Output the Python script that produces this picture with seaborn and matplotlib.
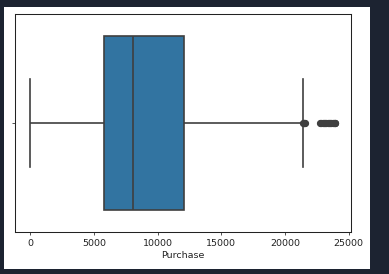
import matplotlib
matplotlib.use("Agg")
import matplotlib.pyplot as plt
from matplotlib.patches import Rectangle
import seaborn as sns
import pandas as pd

# Purchase values (min ~12, Q1 ~5823, median ~8047, Q3 ~12054,
# upper whisker ~21399, outliers up to ~23961)
low_values = [12, 300, 600, 900, 1200, 1500, 1800, 2100, 2400, 2700, 3000, 3300,
              3600, 3900, 4200, 4500, 4800, 5100, 5400, 5650]
q1_value = [5823]
lower_mid = [5900, 6000, 6100, 6200, 6300, 6400, 6500, 6600, 6700, 6800, 6900,
             7000, 7100, 7250, 7400, 7550, 7700, 7850, 7980]
median_value = [8047]
upper_mid = [8150, 8300, 8500, 8700, 8900, 9100, 9300, 9500, 9700, 9900, 10100,
             10300, 10500, 10700, 10900, 11200, 11500, 11800, 11950]
q3_value = [12054]
high_values = [21300, 21399, 21420, 21470, 21520, 21560, 22750, 22850, 22950,
               23050, 23150, 23250, 23350, 23450, 23550, 23650, 23750, 23850,
               23950, 23961]

purchase = (low_values + q1_value + lower_mid + median_value + upper_mid
            + q3_value + high_values)
df = pd.DataFrame({"Purchase": purchase})

plt.rcParams["font.family"] = ["DejaVu Sans"]
plt.rcParams["font.size"] = 6.8

W, H = 389, 274
fig = plt.figure(figsize=(W / 100, H / 100), dpi=100, facecolor="#1c2331")
fig.patches.append(Rectangle((4 / W, 1 - 269 / H), 366 / W, 262 / H,
                             transform=fig.transFigure, facecolor="white",
                             edgecolor="none", zorder=-10))
ax = fig.add_axes([15 / W, 1 - 232 / H, 335.7 / W, 218 / H])
ax.set_zorder(5)
ax.set_facecolor("white")

sns.boxplot(data=df, x="Purchase", ax=ax, color="#3274a1", saturation=1,
            linecolor="#3f3f3f", linewidth=1.2, width=0.8,
            flierprops=dict(marker="o", markersize=4.2,
                            markerfacecolor="#3f3f3f",
                            markeredgecolor="#3f3f3f"))

ax.set_ylim(0.5, -0.5)
ax.set_yticks([0])
ax.set_yticklabels([""])
ax.set_xticks([0, 5000, 10000, 15000, 20000, 25000])
ax.tick_params(axis="both", length=2.4, width=0.55, pad=2.4,
               labelsize=6.8, colors="#222222")
ax.set_xlabel("Purchase", fontsize=6.8, labelpad=2.7, color="#222222")
ax.set_ylabel("")
for s in ax.spines.values():
    s.set_linewidth(0.75)
    s.set_color("#222222")

fig.savefig("out.png", dpi=100, facecolor=fig.get_facecolor())
